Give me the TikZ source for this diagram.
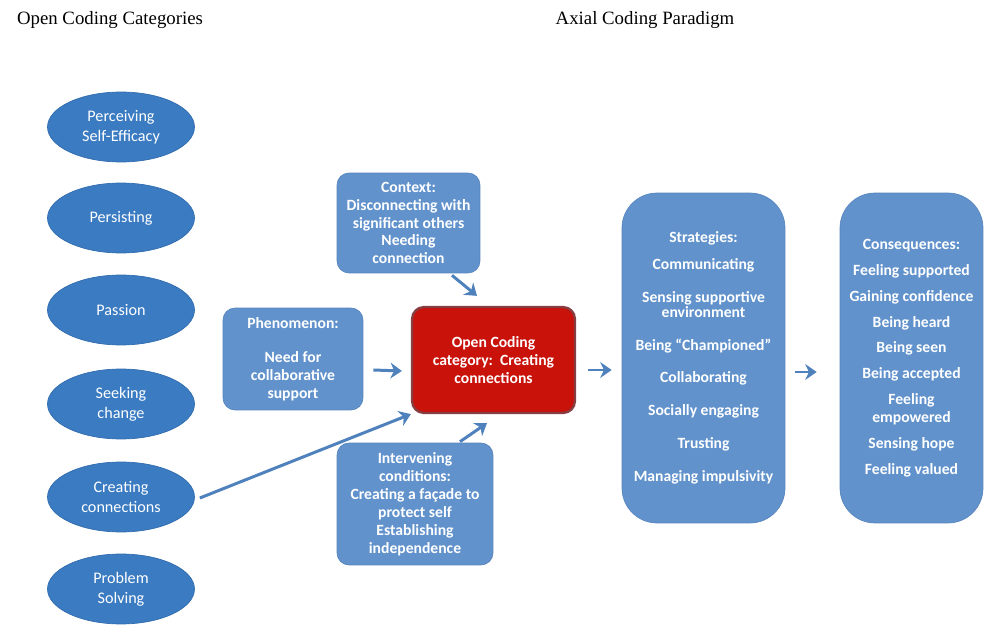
\documentclass[tikz,border=0pt]{standalone}
\usepackage{fontspec}
\setmainfont{Liberation Serif}
\newfontfamily\calfont{Carlito}
\usetikzlibrary{shapes.geometric,arrows.meta}

\definecolor{ellblue}{RGB}{58,123,194}
\definecolor{elledge}{RGB}{50,108,174}
\definecolor{boxblue}{RGB}{97,146,204}
\definecolor{boxedge}{RGB}{88,134,190}
\definecolor{arrowblue}{RGB}{79,129,189}
\definecolor{corered}{RGB}{200,18,10}
\definecolor{coreedge}{RGB}{135,62,66}

\tikzset{
	category/.style={ellipse, draw=elledge, fill=ellblue, text=white, minimum width=2.94cm, minimum height=1.4cm, inner sep=0pt, align=center, font=\calfont\fontsize{9.2}{11.3}\selectfont},
	paradigm/.style={rectangle, rounded corners=0.24cm, draw=boxedge, fill=boxblue, text=white, inner sep=0pt, align=center, font=\calfont\bfseries\fontsize{8.9}{10.2}\selectfont},
	column/.style={paradigm, rounded corners=0.7cm, minimum height=6.6cm},
	title/.style={font=\fontsize{10.7}{12}\selectfont, inner sep=0pt},
	arr/.style={draw=arrowblue, line width=1.7pt, -{Stealth[length=6.5pt, width=9pt]}}
}

\begin{document}
\begin{tikzpicture}[x=0.02cm, y=-0.02cm]
	\useasboundingbox (0,0) rectangle (984,628);

	\node[title] (opentitle) at (110,20) {Open Coding Categories};
	\node[title] (axialtitle) at (645,20) {Axial Coding Paradigm};

	\node[category] (perc) at (121,127) {Perceiving\\Self-Efficacy};
	\node[category] (pers) at (121,218) {Persisting};
	\node[category] (pass) at (121,310) {Passion};
	\node[category] (seek) at (121,404) {Seeking\\change};
	\node[category] (cc) at (121,497) {Creating\\connections};
	\node[category] (prob) at (121,589) {Problem\\Solving};

	\node[paradigm, minimum width=2.86cm, minimum height=2cm] (ctx) at (408.5,223) {Context:\\Disconnecting with\\significant others\\Needing\\connection};
	\node[paradigm, minimum width=2.8cm, minimum height=2.04cm] (phen) at (293,359) {Phenomenon:\\[9.5pt]Need for\\collaborative\\support};
	\node[paradigm, minimum width=3.26cm, minimum height=2.12cm, draw=coreedge, line width=1.3pt, fill=corered] (core) at (493.5,360) {Open Coding\\category:\ \ Creating\\connections};
	\node[paradigm, minimum width=3.12cm, minimum height=2.44cm] (interv) at (415,504) {Intervening\\conditions:\\Creating a façade to\\protect self\\Establishing\\independence};

	\node[column, minimum width=3.26cm] (strat) at (703.5,358) {Strategies:\\[5pt]Communicating\\[8.5pt]Sensing supportive\\[-1.8pt]environment\\[8.5pt]Being “Championed”\\[8.5pt]Collaborating\\[8.5pt]Socially engaging\\[8.5pt]Trusting\\[8.5pt]Managing impulsivity};
	\node[column, minimum width=2.86cm] (cons) at (911.5,358) {Consequences:\\[4.5pt]Feeling supported\\[4.5pt]Gaining confidence\\[4.5pt]Being heard\\[4.5pt]Being seen\\[4.5pt]Being accepted\\[4.5pt]Feeling\\empowered\\[4.5pt]Sensing hope\\[4.5pt]Feeling valued};

	\draw[arr] ([shift={(43.5,2)}]ctx.south) -- ([shift={(-16.5,-10)}]core.north);
	\draw[arr] ([shift={(10,11)}]phen.east) -- ([shift={(-9,11)}]core.west);
	\draw[arr] ([shift={(12,10)}]core.east) -- ([shift={(-10,12)}]strat.west);
	\draw[arr] ([shift={(10,14)}]strat.east) -- ([shift={(-23,14)}]cons.west);
	\draw[arr] ([shift={(5,1)}]cc.east) -- (core.south west);
	\draw[arr] ([shift={(45,-1)}]interv.north) -- ([shift={(-6.5,9)}]core.south);
\end{tikzpicture}
\end{document}
